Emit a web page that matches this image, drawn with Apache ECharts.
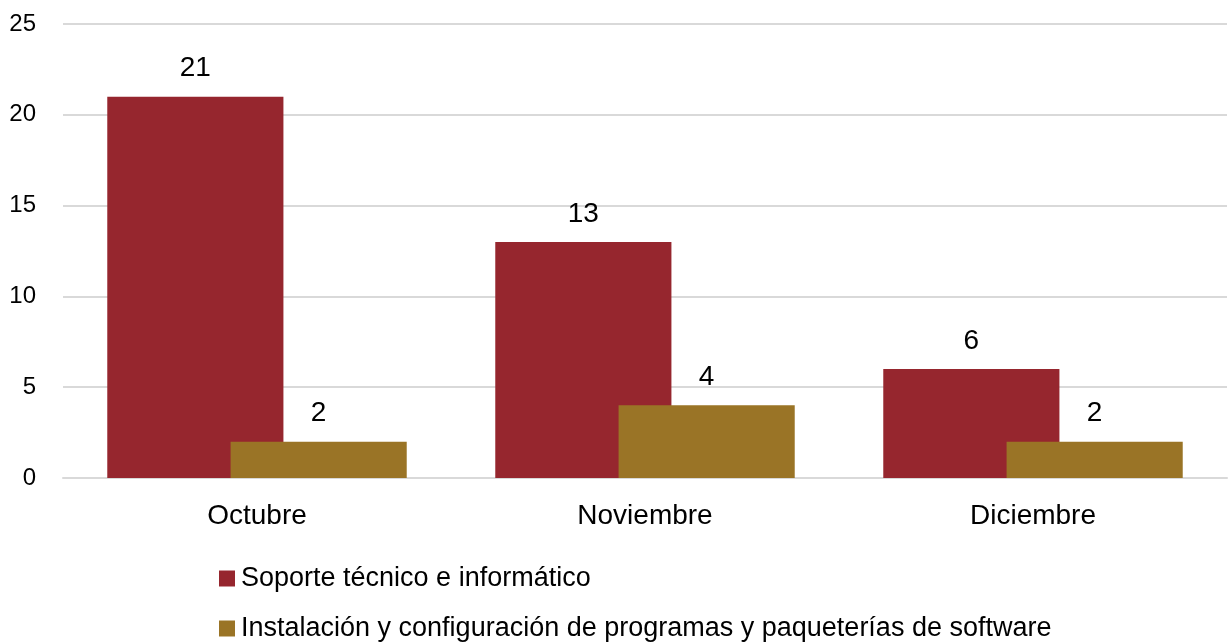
<!DOCTYPE html>
<html>
<head>
<meta charset="utf-8">
<script src="https://cdn.jsdelivr.net/npm/echarts@6/dist/echarts.min.js"></script>
<style>
  html, body { margin: 0; padding: 0; background: #fff; }
  #chart { width: 1228px; height: 642px; }
</style>
</head>
<body>
<div id="chart"></div>
<script>
// datos
var meses = ['Octubre', 'Noviembre', 'Diciembre'];
var soporte = [21, 13, 6];
var instalacion = [2, 4, 2];
var nombres = ['Soporte técnico e informático', 'Instalación y configuración de programas y paqueterías de software'];

var fuente = '"Liberation Sans", Arial, sans-serif';

// una leyenda por serie, una debajo de la otra
function leyenda(nombre, arriba) {
  return {
    left: 214,
    top: arriba,
    itemWidth: 16,
    itemHeight: 16,
    itemGap: 0,
    icon: 'rect',
    textStyle: { fontSize: 27, color: '#000', fontFamily: fuente, padding: [0, 0, 0, 1] },
    data: [nombre]
  };
}

var chart = echarts.init(document.getElementById('chart'));
chart.setOption({
  animation: false,
  color: ['#96262e', '#9a7426'],
  textStyle: { fontFamily: fuente },
  grid: {
    left: 63,
    right: 1,
    top: 24,
    bottom: 164
  },
  legend: [leyenda(nombres[0], 560), leyenda(nombres[1], 610)],
  xAxis: {
    type: 'category',
    data: meses,
    axisTick: { show: false },
    axisLine: { lineStyle: { color: '#d9d9d9', width: 2 } },
    axisLabel: { fontSize: 28, color: '#000', margin: 24, fontFamily: fuente }
  },
  yAxis: {
    type: 'value',
    min: 0,
    max: 25,
    interval: 5,
    axisLine: { show: false },
    axisTick: { show: false },
    axisLabel: { fontSize: 24, color: '#000', margin: 27, fontFamily: fuente },
    splitLine: { lineStyle: { color: '#d9d9d9', width: 2 } }
  },
  series: [{
    name: nombres[0],
    type: 'bar',
    data: soporte,
    barWidth: '45.4%',
    barGap: '-30%',
    label: { show: true, position: 'top', distance: 14, fontSize: 28, color: '#000', fontFamily: fuente }
  }, {
    name: nombres[1],
    type: 'bar',
    data: instalacion,
    barWidth: '45.4%',
    label: { show: true, position: 'top', distance: 14, fontSize: 28, color: '#000', fontFamily: fuente }
  }]
});
</script>
</body>
</html>
